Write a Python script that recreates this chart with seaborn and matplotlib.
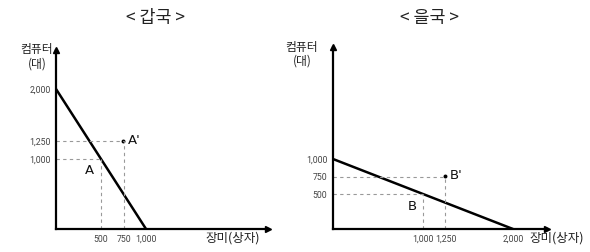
import matplotlib
matplotlib.use("Agg")
import matplotlib.pyplot as plt
import seaborn as sns
import pandas as pd

# production possibility frontiers (rose boxes, computers)
gap_rose = [0, 1000]
gap_comp = [2000, 0]
eul_rose = [0, 2000]
eul_comp = [1000, 0]

# consumption points
gap_points = {"A": (500, 1000), "A'": (750, 1250)}
eul_points = {"B": (1000, 500), "B'": (1250, 750)}

gap_xticks = [500, 750, 1000]
gap_yticks = [1000, 1250, 2000]
eul_xticks = [1000, 1250, 2000]
eul_yticks = [500, 750, 1000]

sns.set_style("white")
plt.rcParams["font.family"] = ["Noto Sans CJK KR", "DejaVu Sans"]

fig = plt.figure(figsize=(5.9, 2.52), dpi=100)
W, H = 590, 252
TICK_FONT = ["Roboto", "DejaVu Sans"]


def draw_panel(rect, xmax, ymax, rose, comp, points, xticks, yticks,
               title, title_x, ylab_xy, label_offsets):
    ax = fig.add_axes(rect)
    df = pd.DataFrame({"rose": rose, "comp": comp})
    sns.lineplot(data=df, x="rose", y="comp", ax=ax, color="black",
                 linewidth=1.8, sort=False)
    for name, (px, py) in points.items():
        ax.plot([0, px], [py, py], ls=(0, (3, 3)), color="#999999", lw=0.8)
        ax.plot([px, px], [0, py], ls=(0, (3, 3)), color="#999999", lw=0.8)
    pts = pd.DataFrame(list(points.values()), columns=["x", "y"])
    primed = pts[[n.endswith("'") for n in points]]
    sns.scatterplot(data=primed, x="x", y="y", ax=ax, color="black", s=8,
                    edgecolor="none")
    for name, (px, py) in points.items():
        dx, dy = label_offsets[name]
        ax.annotate(name, (px, py), xytext=(dx, dy), textcoords="offset points",
                    fontsize=9.5, ha="left", va="center", family="DejaVu Sans",
                    color="#111111")
    ax.set_xlim(0, xmax)
    ax.set_ylim(0, ymax)
    ax.set_xticks(xticks)
    ax.set_xticklabels([f"{v:,}" for v in xticks], family=TICK_FONT)
    ax.set_yticks(yticks)
    ax.set_yticklabels([f"{v:,}" for v in yticks], family=TICK_FONT)
    ax.tick_params(length=0, labelsize=6.3, colors="#444444", pad=4)
    for s in ["top", "right"]:
        ax.spines[s].set_visible(False)
    for s in ["left", "bottom"]:
        ax.spines[s].set_linewidth(1.6)
        ax.spines[s].set_color("black")
    ax.plot(1, 0, ">k", ms=5, transform=ax.get_yaxis_transform(), clip_on=False)
    ax.plot(0, 1, "^k", ms=5, transform=ax.get_xaxis_transform(), clip_on=False)
    ax.set_xlabel("")
    ax.set_ylabel("")
    fig.text(title_x / W, 1 - 18 / H, title, ha="center", va="center",
             fontsize=12.5, color="#222222")
    fig.text(ylab_xy[0] / W, 1 - ylab_xy[1] / H, "컴퓨터\n(대)", ha="center",
             va="center", fontsize=8.5, linespacing=1.1, color="#222222")
    return ax


draw_panel([56 / W, 23 / H, 212 / W, 179 / H], 2355, 2557,
           gap_rose, gap_comp, gap_points, gap_xticks, gap_yticks,
           "< 갑국 >", 155, (37, 57),
           {"A": (-11.5, -8), "A'": (3, 1)})
fig.text(233 / W, 1 - 238 / H, "장미(상자)", ha="center", va="center",
         fontsize=9, color="#222222")

draw_panel([333 / W, 23 / H, 214 / W, 182 / H], 2378, 2600,
           eul_rose, eul_comp, eul_points, eul_xticks, eul_yticks,
           "< 을국 >", 430, (302, 54),
           {"B": (-11, -9), "B'": (3, 1)})
fig.text(557 / W, 1 - 238 / H, "장미(상자)", ha="center", va="center",
         fontsize=9, color="#222222")

fig.savefig("out.png", dpi=100)
